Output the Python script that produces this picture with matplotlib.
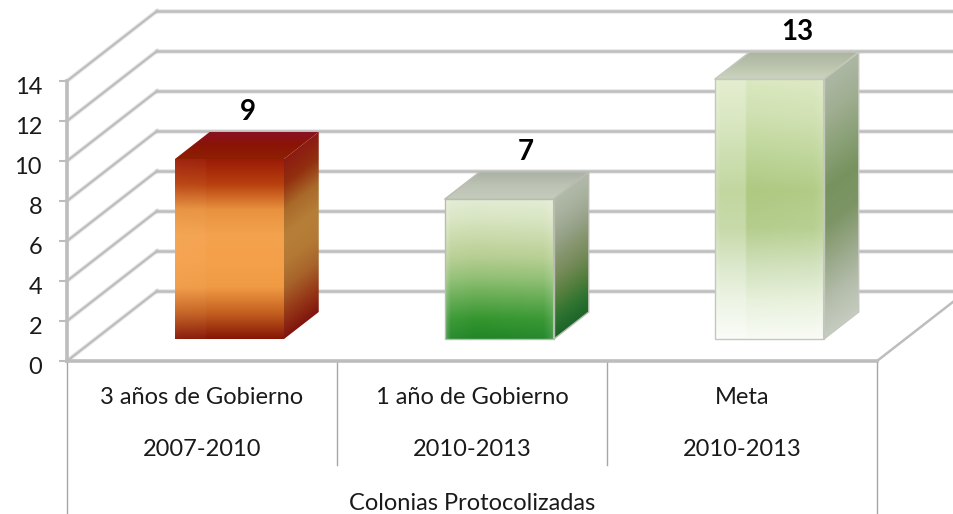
#Importing the required packages
import numpy as np
import matplotlib
matplotlib.use("Agg")
import matplotlib.pyplot as plt
from matplotlib.patches import Polygon
from matplotlib.transforms import Affine2D, ScaledTranslation
from matplotlib.colors import to_rgb

#Data
categories = ["3 años de Gobierno", "1 año de Gobierno", "Meta"]
periods = ["2007-2010", "2010-2013", "2010-2013"]
group_name = "Colonias Protocolizadas"
values = [9, 7, 13]
y_ticks = [0, 2, 4, 6, 8, 10, 12, 14]

#Oblique depth of the chart box, in category and value units
depth_x = 1/3
depth_y = 3.5
bar_width = 0.404
bar_shift = -0.003
bar_d0 = 0.31
bar_d1 = 0.70

grid_col = "#bdbdbd"
text_col = "#1a1a1a"

#Colour stops, top to bottom of each face
front_cols = [
    ["#9a1a06", "#b8400e", "#e8923e", "#f4a24e", "#f5a04a", "#f09a44", "#c4601f", "#861605"],
    ["#e2ecd4", "#d8e5c2", "#c9d9a8", "#b4cd90", "#8fbf72", "#62aa50", "#35962f", "#1f8526"],
    ["#dbe8c0", "#cfe0b0", "#bdd598", "#aec981", "#b4cd8c", "#cfe0ba", "#e8f1dc", "#f8fbf5"],
]
side_cols = [
    ["#8c1a12", "#92300f", "#aa6a2a", "#b67f38", "#b47a35", "#a8642b", "#973a18", "#80140e"],
    ["#b2b9aa", "#a8b19e", "#99a48c", "#87966f", "#748a58", "#557f3e", "#2f7430", "#1b6429"],
    ["#adb8a4", "#a0ae92", "#8ba178", "#78925f", "#7d9565", "#98a888", "#b3bcaa", "#c5ccc0"],
]
top_cols = [
    ["#8a1224", "#8a1406", "#8f1f02"],
    ["#a9b0a4", "#bcc3b4", "#c6ccbc"],
    ["#a9b3a0", "#b9c3ab", "#ccd4bf"],
]
#how much white is mixed in across the front face: positions, then amounts
light_pos = [0, 0.05, 0.27, 0.29, 0.9, 1]
front_light = [
    [0.05, 0.04, 0.03, 0.0, 0.0, 0.0],
    [0.25, 0.05, 0.0, 0.0, 0.03, 0.18],
    [0.4, 0.25, 0.25, 0.0, 0.05, 0.15],
]
edge_cols = [None, "#b8bdb0", "#c4c8bc"]
label_dx = [0.0, 8, 10]


def project(x, v, d):
    return x + d*depth_x, v + d*depth_y


def gradient(stops, light=None):
    rgb = np.array([to_rgb(c) for c in stops])
    pos = np.linspace(0, 1, len(stops))
    s = np.linspace(0, 1, 200)
    col = np.stack([np.interp(s, pos, rgb[:, k]) for k in range(3)], axis=1)[:, None, :]
    if light is None:
        return col
    w = np.interp(np.linspace(0, 1, 110), light_pos, light)[None, :, None]
    return col*(1-w) + w


def face(origin, u, v, stops, z, light=None, edge=None):
    #unit square -> parallelogram in data coords
    tr = Affine2D.from_values(u[0], u[1], v[0], v[1], origin[0], origin[1])
    im = ax.imshow(gradient(stops, light), extent=(0, 1, 0, 1), aspect="auto", origin="upper",
                   transform=tr + ax.transData, zorder=z, interpolation="bilinear")
    corners = [origin, (origin[0]+u[0], origin[1]+u[1]),
               (origin[0]+u[0]+v[0], origin[1]+u[1]+v[1]), (origin[0]+v[0], origin[1]+v[1])]
    clip = Polygon(corners, closed=True, transform=ax.transData)
    im.set_clip_box(fig.bbox)
    im.set_clip_path(clip)
    if edge:
        ax.add_patch(Polygon(corners, closed=True, fill=False, ec=edge, lw=1, zorder=z+0.1, clip_on=False))


fig = plt.figure(figsize=(9.54, 5.14), dpi=100, facecolor="white")
plt.rcParams["font.family"] = ["Lato", "DejaVu Sans"]
ax = fig.add_axes([67/954, 1-361/514, 810/954, 280/514])
ax.patch.set_alpha(0)

#Walls
for v in y_ticks:
    xa, ya = project(0, v, 1)
    xb, yb = project(3, v, 1)
    for lw, al in [(3.6, 0.3), (1.8, 1)]:
        ax.plot([0, xa], [v, ya], color=grid_col, lw=lw*0.9, alpha=al, clip_on=False, zorder=1)
        ax.plot([xa, xb], [ya, yb], color=grid_col, lw=lw, alpha=al, clip_on=False, zorder=1)
xa, ya = project(3, 0, 1)
ax.plot([3, xa], [0, ya], color=grid_col, lw=1.8, clip_on=False, zorder=1)

#Bars
for i, val in enumerate(values):
    x0 = i + 0.5 - bar_width/2 + bar_shift
    x1 = x0 + bar_width
    p0 = project(x0, 0, bar_d0)
    p1 = project(x1, 0, bar_d0)
    dd = (bar_d1-bar_d0)*depth_x, (bar_d1-bar_d0)*depth_y
    face(p0, (x1-x0, 0), (0, val), front_cols[i], 3, front_light[i], edge_cols[i])
    face(p1, dd, (0, val), side_cols[i], 3, None, edge_cols[i])
    face((p0[0], p0[1]+val), (x1-x0, 0), dd, top_cols[i], 3, None, edge_cols[i])
    lx = i + 0.5 + (bar_d0+bar_d1)/2*depth_x + label_dx[i]/270
    ax.text(lx, val + 3.45, str(val), ha="center", va="center", fontsize=20, fontweight="bold",
            color="black", zorder=5, clip_on=False)

ax.set_xlim(0, 3)
ax.set_ylim(0, 14)

#Axes
ax.set_yticks(y_ticks)
ax.set_yticklabels([str(v) for v in y_ticks], fontsize=17, color=text_col)
ax.tick_params(axis="y", length=6, width=1.5, color=grid_col, pad=12)
shift = ScaledTranslation(0, -3/72, fig.dpi_scale_trans)
for lab in ax.get_yticklabels():
    lab.set_transform(lab.get_transform() + shift)
ax.set_xticks([])
for s in ["top", "right"]:
    ax.spines[s].set_visible(False)
ax.spines["left"].set_color(grid_col)
ax.spines["left"].set_linewidth(2.6)
ax.spines["bottom"].set_color(grid_col)
ax.spines["bottom"].set_linewidth(2.6)

#Multi level category axis
sep_col = "#a6a6a6"
for x, low in zip([0, 1, 2, 3], [-7.65, -5.2, -5.2, -7.65]):
    ax.plot([x, x], [0, low], color=sep_col, lw=1, clip_on=False, zorder=1)
for i in range(3):
    ax.text(i + 0.5, -1.85, categories[i], ha="center", va="center", fontsize=17, color=text_col)
    ax.text(i + 0.5, -4.4, periods[i], ha="center", va="center", fontsize=17, color=text_col)
ax.text(1.5, -7.1, group_name, ha="center", va="center", fontsize=17, color=text_col)

fig.savefig("out.png", dpi=100)
